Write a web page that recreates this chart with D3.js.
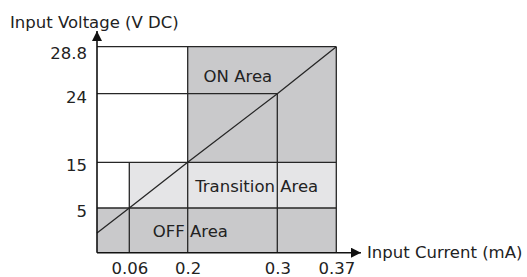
<!DOCTYPE html>
<html>
<head>
<meta charset="utf-8">
<script src="https://d3js.org/d3.v7.min.js"></script>
<style>
body { margin: 0; background: #fff; }
text { font-family: "DejaVu Sans", Verdana, sans-serif; font-size: 16.5px; fill: #222; }
</style>
</head>
<body>
<svg></svg>
<script>

// tick values on each axis (axes are not to scale in the original)
var currentTicks = [0.06, 0.2, 0.3, 0.37];
var voltageTicks = [5, 15, 24, 28.8];

// the ON/OFF threshold line
var lineCurrent = [0, 0.06, 0.2, 0.3, 0.37];
var lineVoltage = [2.2, 5, 15, 24, 28.8];

// shaded areas: current from-to, voltage from-to
var areaNames = ["off", "transition", "on"];
var areaCurrent = [[0, 0.37], [0.06, 0.37], [0.2, 0.37]];
var areaVoltage = [[0, 5], [5, 15], [15, 28.8]];

// grid segments
var hLines = [5, 15, 24, 28.8];
var hLineEnds = [0.37, 0.37, 0.3, 0.37];
var vLines = [0.06, 0.2, 0.3, 0.37];
var vLineEnds = [15, 28.8, 24, 28.8];

// area labels
var labelText = ["ON Area", "Transition Area", "OFF Area"];
var labelCurrent = [0.256, 0.277, 0.203];
var labelVoltage = [25.8, 9.7, 2.4];

var screen = {width: 527, height: 277};

var xScale = d3.scaleLinear()
    .domain([0, 0.06, 0.2, 0.3, 0.37])
    .range([97, 129.3, 187.7, 277.3, 336.3]);
var yScale = d3.scaleLinear()
    .domain([0, 5, 15, 24, 28.8])
    .range([252.7, 208, 162.3, 93.7, 46.7]);

var colors = {off: "#c9c9cb", transition: "#e5e5e7", on: "#c9c9cb"};
var ink = "#262626";

var svg = d3.select("svg")
    .attr("width", screen.width)
    .attr("height", screen.height);

var drawAreas = function()
{
    svg.append("g").attr("id", "areas")
        .selectAll("rect")
        .data(areaNames)
        .enter()
        .append("rect")
        .attr("x", function(d, i) { return xScale(areaCurrent[i][0]); })
        .attr("y", function(d, i) { return yScale(areaVoltage[i][1]); })
        .attr("width", function(d, i) { return xScale(areaCurrent[i][1]) - xScale(areaCurrent[i][0]); })
        .attr("height", function(d, i) { return yScale(areaVoltage[i][0]) - yScale(areaVoltage[i][1]); })
        .attr("fill", function(d) { return colors[d]; });
}

var drawGrid = function()
{
    var g = svg.append("g").attr("id", "grid")
        .attr("stroke", ink).attr("stroke-width", 1.3);

    g.selectAll(".h")
        .data(hLines)
        .enter()
        .append("line")
        .attr("x1", xScale(0))
        .attr("x2", function(d, i) { return xScale(hLineEnds[i]); })
        .attr("y1", function(d) { return yScale(d); })
        .attr("y2", function(d) { return yScale(d); });

    g.selectAll(".v")
        .data(vLines)
        .enter()
        .append("line")
        .attr("x1", function(d) { return xScale(d); })
        .attr("x2", function(d) { return xScale(d); })
        .attr("y1", yScale(0))
        .attr("y2", function(d, i) { return yScale(vLineEnds[i]); });

    var line = d3.line()
        .x(function(d) { return xScale(d); })
        .y(function(d, i) { return yScale(lineVoltage[i]); });

    svg.append("path")
        .attr("d", line(lineCurrent))
        .attr("fill", "none")
        .attr("stroke", ink)
        .attr("stroke-width", 1.3);
}

var drawAxes = function()
{
    svg.append("defs").append("marker")
        .attr("id", "arrow")
        .attr("viewBox", "0 0 10 10")
        .attr("refX", 10).attr("refY", 5)
        .attr("markerWidth", 10).attr("markerHeight", 10)
        .attr("markerUnits", "userSpaceOnUse")
        .attr("orient", "auto")
        .append("path")
        .attr("d", "M0,0L10,5L0,10Z")
        .attr("fill", "#111");

    svg.append("line")
        .attr("x1", xScale(0)).attr("y1", yScale(0))
        .attr("x2", 361).attr("y2", yScale(0))
        .attr("stroke", "#111").attr("stroke-width", 1.6)
        .attr("marker-end", "url(#arrow)");

    svg.append("line")
        .attr("x1", xScale(0)).attr("y1", yScale(0))
        .attr("x2", xScale(0)).attr("y2", 31)
        .attr("stroke", "#111").attr("stroke-width", 1.6)
        .attr("marker-end", "url(#arrow)");

    var xAxis = d3.axisBottom(xScale).tickValues(currentTicks).tickSize(0).tickPadding(10)
        .tickFormat(function(d) { return d; });
    var yAxis = d3.axisLeft(yScale).tickValues(voltageTicks).tickSize(0).tickPadding(10)
        .tickFormat(function(d) { return d; });

    var gx = svg.append("g").attr("id", "xAxis")
        .attr("transform", "translate(0," + yScale(0) + ")")
        .call(xAxis);
    var gy = svg.append("g").attr("id", "yAxis")
        .attr("transform", "translate(" + xScale(0) + ",0)")
        .call(yAxis);

    svg.selectAll("#xAxis .domain, #yAxis .domain").remove();
    svg.selectAll("#xAxis text, #yAxis text")
        .attr("font-size", null).attr("font-family", null).attr("fill", null);
    gx.attr("font-size", null).attr("font-family", null);
    gy.attr("font-size", null).attr("font-family", null);
    // labels sit a little below their grid line, the top one more so
    gy.selectAll("text").attr("dy", null)
        .attr("y", function(d) { return d === 28.8 ? 12 : 8.5; });

    svg.append("text")
        .attr("x", 10).attr("y", 28)
        .text("Input Voltage (V DC)");

    svg.append("text")
        .attr("x", 367).attr("y", 258)
        .text("Input Current (mA)");
}

var drawLabels = function()
{
    svg.append("g").attr("id", "labels")
        .selectAll("text")
        .data(labelText)
        .enter()
        .append("text")
        .attr("x", function(d, i) { return xScale(labelCurrent[i]); })
        .attr("y", function(d, i) { return yScale(labelVoltage[i]); })
        .attr("dy", "0.36em")
        .attr("text-anchor", "middle")
        .text(function(d) { return d; });
}

drawAreas();
drawGrid();
drawAxes();
drawLabels();
</script>
</body>
</html>
